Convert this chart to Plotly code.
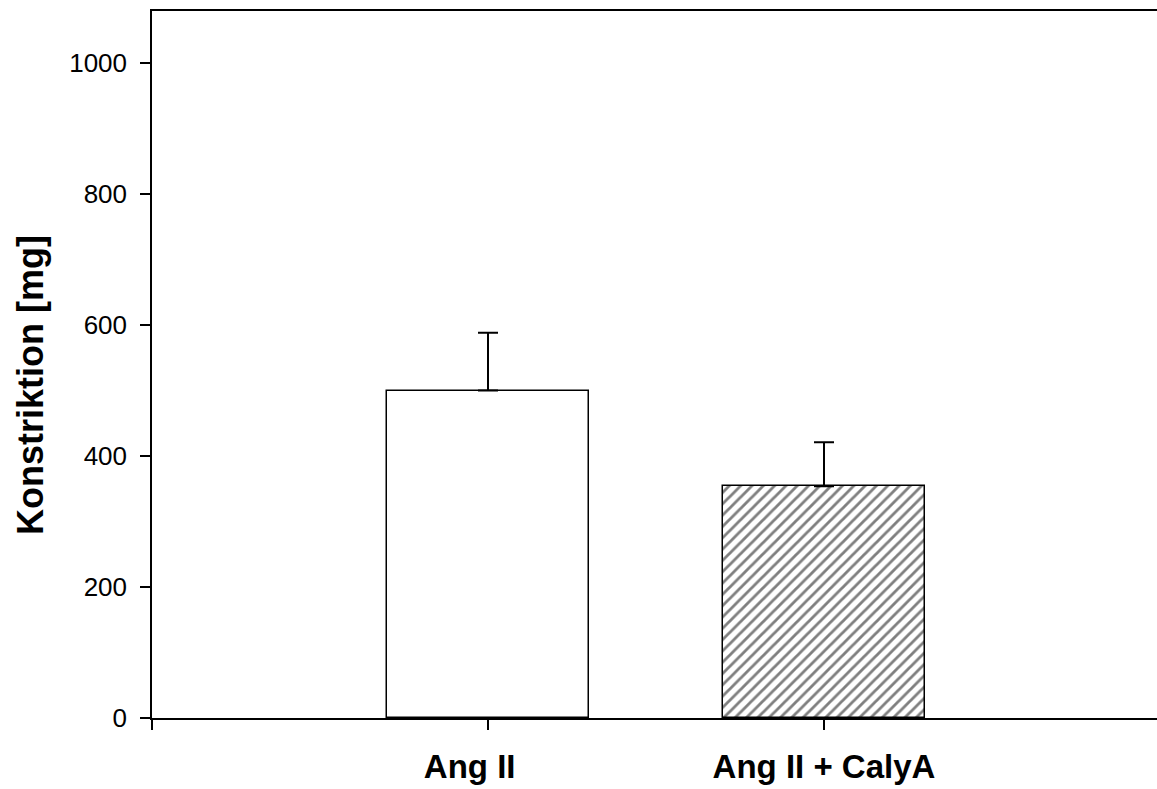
import plotly.graph_objects as go

categories = ["Ang II", "Ang II + CalyA"]
positions = [1, 2]
values = [500, 354]
errors_up = [88, 67]
y_ticks = [0, 200, 400, 600, 800, 1000]
# trailing padding so the first label sits slightly left of its tick, as in the original
label_pad = ["\u00a0\u00a0\u00a0\u00a0", ""]

FONT = "Liberation Sans, Arial, sans-serif"

fig = go.Figure()
fig.add_trace(go.Bar(
    x=[positions[0]], y=[values[0]], width=0.6,
    marker=dict(color="white", line=dict(color="black", width=1.5)),
    error_y=dict(type="data", symmetric=False, array=[errors_up[0]], arrayminus=[0],
                 color="black", thickness=2, width=10),
    showlegend=False,
))
fig.add_trace(go.Bar(
    x=[positions[1]], y=[values[1]], width=0.6,
    marker=dict(color="white", line=dict(color="black", width=1.5),
                pattern=dict(shape="/", fgcolor="black", bgcolor="white", size=8, solidity=0.35)),
    error_y=dict(type="data", symmetric=False, array=[errors_up[1]], arrayminus=[0],
                 color="black", thickness=2, width=10),
    showlegend=False,
))

fig.update_layout(
    width=1157, height=789,
    margin=dict(l=152, r=0, t=11, b=71, autoexpand=False),
    plot_bgcolor="white", paper_bgcolor="white",
    font=dict(family=FONT, color="black"),
    bargap=0,
    xaxis=dict(
        range=[0, 1005 / 336], tickvals=[0] + positions + [3],
        ticktext=[""] + ["<b>%s</b>%s" % (c, p) for c, p in zip(categories, label_pad)] + [""],
        showline=True, linecolor="black", linewidth=2, mirror=True,
        ticks="outside", ticklen=10, tickwidth=1.5, tickcolor="black",
        tickfont=dict(size=33, family=FONT), ticklabelstandoff=8,
        showgrid=False, zeroline=False, automargin=False,
    ),
    yaxis=dict(
        range=[0, 707 / 0.655], tickvals=y_ticks,
        showline=True, linecolor="black", linewidth=1.5, mirror=False,
        ticks="outside", ticklen=10, tickwidth=1.5, tickcolor="black",
        tickfont=dict(size=26, family=FONT), ticklabelstandoff=8,
        showgrid=False, zeroline=False, automargin=False,
    ),
    annotations=[dict(
        text="<b>Konstriktion [mg]</b>", textangle=-90,
        xref="paper", yref="paper", x=(30 - 152) / 1005, y=(718 - 385) / 707,
        xanchor="center", yanchor="middle", showarrow=False,
        font=dict(size=36, family=FONT, color="black"),
    )],
)

fig.write_html("out.html")
